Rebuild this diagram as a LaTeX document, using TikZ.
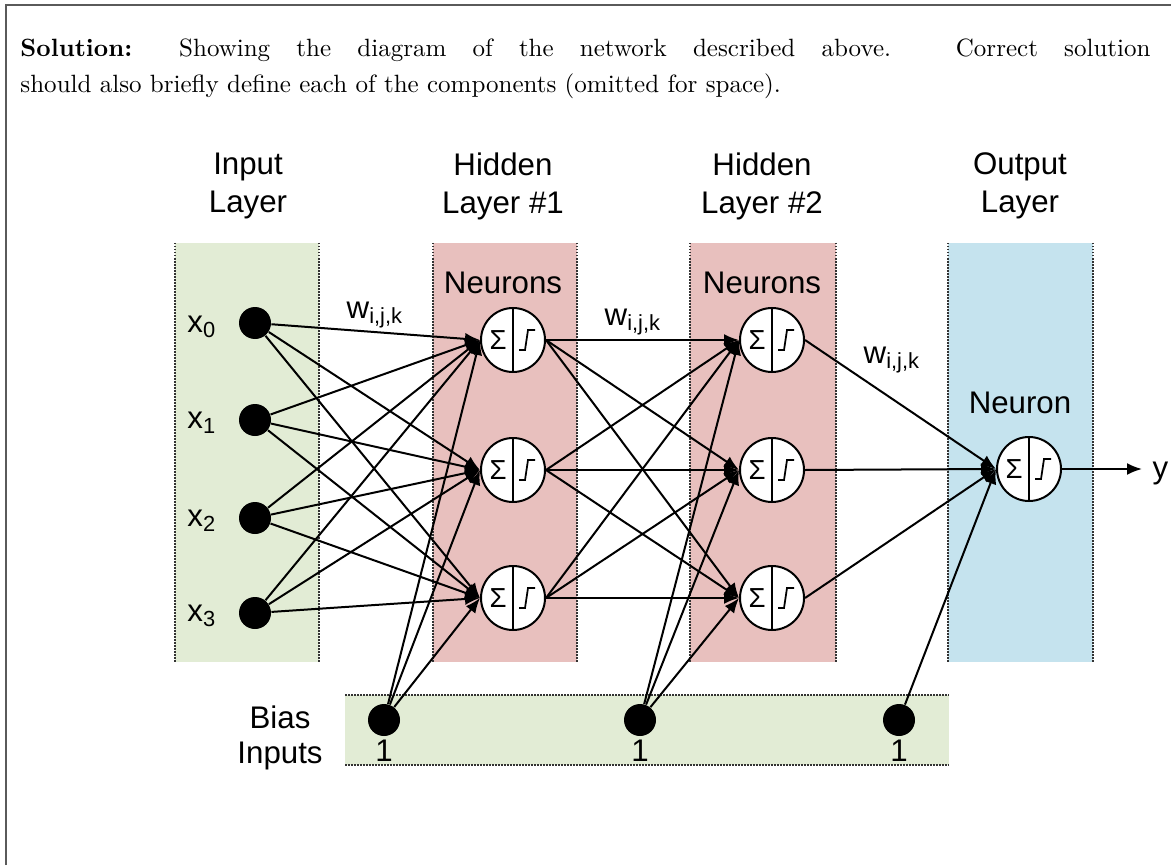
\documentclass[tikz,border=0pt]{standalone}
\usepackage{fontspec}
\newfontfamily\arialf{Liberation Sans}
\usetikzlibrary{arrows.meta}
\definecolor{ingreen}{RGB}{226,236,213}
\definecolor{hidpink}{RGB}{232,192,190}
\definecolor{outblue}{RGB}{197,227,238}
\definecolor{framegray}{RGB}{90,90,90}
\pgfdeclarelayer{bands}
\pgfdeclarelayer{edges}
\pgfsetlayers{bands,edges,main}
\newcommand\mkneuron[3]{%
  \node[neuron] (#1) at (#2,#3) {};
  \draw[conn] (#1.north) -- (#1.south);
  \node[sigma] at (#2-15,#3) {Σ};
  \draw[conn,line width=0.7pt] (#2+6,#3+10) -- (#2+12,#3+10) -- (#2+15,#3-10) -- (#2+22,#3-10);
}
\begin{document}
\begin{tikzpicture}[x=0.4pt,y=-0.4pt,
  conn/.style={line width=0.8pt},
  arr/.style={conn,-{Latex[length=6pt,width=4.8pt]}},
  vdot/.style={black!80,line width=0.9pt,dash pattern=on 0.6pt off 0.6pt},
  dotnode/.style={circle,fill=black,inner sep=0pt,minimum size=12.8pt},
  neuron/.style={circle,draw,fill=white,line width=0.8pt,minimum size=25.6pt,inner sep=0pt},
  sigma/.style={font=\arialf\fontsize{11}{12}\selectfont,inner sep=0pt},
  lbl/.style={font=\arialf\fontsize{12.5}{15.2}\selectfont,align=center,inner sep=0pt},
  txt/.style={font=\fontsize{10}{12}\selectfont,anchor=base west,inner sep=0pt}]
\useasboundingbox (0,0) rectangle (1171,865);
% frame
\draw[framegray,line width=0.8pt] (6,865) -- (6,5) -- (1171,5);
% text
\node[txt] (t1) at (20,57) {\makebox[452pt][s]{\textbf{Solution:} Showing the diagram of the network described above. Correct solution}};
\node[txt] (t2) at (20,93) {should also briefly define each of the components (omitted for space).};
% bands
\begin{pgfonlayer}{bands}
\fill[ingreen] (175,243) rectangle (319,662);
\fill[hidpink] (433,243) rectangle (577,662);
\fill[hidpink] (690,243) rectangle (836,662);
\fill[outblue] (948,243) rectangle (1093,662);
\fill[ingreen] (345,695) rectangle (949,765);
\foreach \xx in {175,319,433,577,690,836,948,1093}
  \draw[vdot] (\xx,243) -- (\xx,662);
\draw[vdot] (345,695) -- (949,695);
\draw[vdot] (345,765) -- (949,765);
\end{pgfonlayer}
% labels
\node[lbl] (lin) at (248,186) {Input\\Layer};
\node[lbl] (lh1) at (503,186) {Hidden\\Layer \#1};
\node[lbl] (lh2) at (762,186) {Hidden\\Layer \#2};
\node[lbl] (lout) at (1020,186) {Output\\Layer};
\node[lbl] (n1) at (503,283) {Neurons};
\node[lbl] (n2) at (762,283) {Neurons};
\node[lbl] (n3) at (1020,403) {Neuron};
\node[lbl] (w1) at (375,315) {w\textsubscript{i,j,k}};
\node[lbl] (w2) at (633,322) {w\textsubscript{i,j,k}};
\node[lbl] (w3) at (892,360) {w\textsubscript{i,j,k}};
\node[lbl,font=\arialf\fontsize{12.5}{13.8}\selectfont] (lbias) at (280,738) {Bias\\Inputs};
% input nodes
\node[dotnode] (x0) at (255,323) {};
\node[dotnode] (x1) at (255,420) {};
\node[dotnode] (x2) at (255,518) {};
\node[dotnode] (x3) at (255,613) {};
\node[lbl] (lx0) at (202,327) {x\textsubscript{0}};
\node[lbl] (lx1) at (202,423) {x\textsubscript{1}};
\node[lbl] (lx2) at (202,521) {x\textsubscript{2}};
\node[lbl] (lx3) at (202,616) {x\textsubscript{3}};
% bias nodes
\node[dotnode] (b1) at (384,720) {};
\node[dotnode] (b2) at (640,720) {};
\node[dotnode] (b3) at (899,720) {};
\node[lbl] (lb1) at (384,751) {1};
\node[lbl] (lb2) at (640,751) {1};
\node[lbl] (lb3) at (899,751) {1};
% neurons
\mkneuron{h11}{513}{340}
\mkneuron{h12}{513}{470}
\mkneuron{h13}{513}{598}
\mkneuron{h21}{772}{340}
\mkneuron{h22}{772}{470}
\mkneuron{h23}{772}{598}
\mkneuron{out}{1029}{469}
\coordinate (yend) at (1142,469);
% connectors
\begin{pgfonlayer}{edges}
\foreach \s in {x0,x1,x2,x3,b1}
  \foreach \t in {h11,h12,h13}
    \draw[arr] (\s) -- (\t.west);
\foreach \t in {h21,h22,h23} {
  \foreach \s in {h11,h12,h13}
    \draw[arr] (\s.east) -- (\t.west);
  \draw[arr] (b2) -- (\t.west);
}
\foreach \s in {h21,h22,h23}
  \draw[arr] (\s.east) -- (out.west);
\draw[arr] (b3) -- (out.west);
\end{pgfonlayer}
\draw[arr] (out.east) -- (yend);
\node[lbl,anchor=west] (ylab) at (1152,473) {y};
\end{tikzpicture}
\end{document}
